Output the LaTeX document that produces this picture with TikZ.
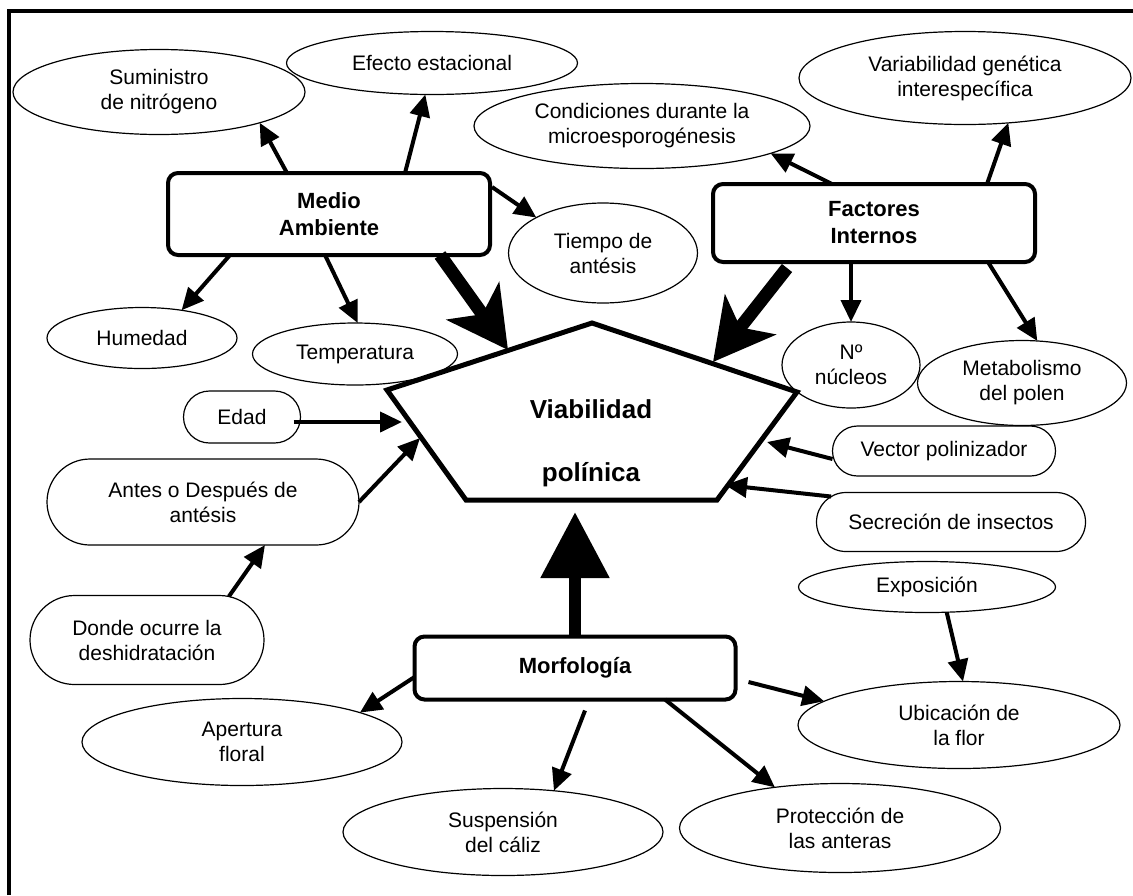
\documentclass[tikz,border=0pt]{standalone}
\usepackage{fontspec}
\setmainfont{Liberation Sans}
\usetikzlibrary{arrows.meta,shapes.geometric,shapes.misc,calc}

\begin{document}
\begin{tikzpicture}[
  x=0.5pt,y=-0.5pt,
  font=\fontsize{10.5}{12.5}\selectfont,
  oval/.style={ellipse,draw,line width=0.6pt,align=center,inner sep=0pt,outer sep=0pt},
  pill/.style={rounded rectangle,draw,line width=0.6pt,align=center,inner sep=0pt,outer sep=0pt},
  box/.style={draw,line width=2pt,rounded corners=5pt,align=center,inner sep=0pt,outer sep=0pt,font=\fontsize{11}{13.5}\selectfont\bfseries},
  arr/.style={-{Triangle[length=11pt,width=10pt]},line width=2pt},
  bigarr/.style={-{Stealth[length=30pt,width=32pt,inset=8pt]},line width=6.5pt},
  uparr/.style={-{Triangle[length=33pt,width=33pt]},line width=6pt}]
  \useasboundingbox (0,0) rectangle (1133,895);
  \draw[line width=2pt] (9,895) -- (9,11) -- (1133,11);

  \coordinate (pt) at (592,323);
  \coordinate (pr) at (797,392);
  \coordinate (pbr) at (717,500);
  \coordinate (pbl) at (466,500);
  \coordinate (pl) at (387,390);
  \draw[line width=2.5pt,line join=miter] (pt) -- (pr) -- (pbr) -- (pbl) -- (pl) -- cycle;
  \node[font=\fontsize{13}{31.5}\selectfont\bfseries,align=center] (via) at (591,443) {Viabilidad\\polínica};
  \coordinate (tipmed) at (508,350);
  \coordinate (tipfac) at (713,362);
  \coordinate (tipeda) at (402,422);
  \coordinate (tipant) at (420,438);
  \coordinate (tipvec) at (767,442);
  \coordinate (tipsec) at (725,485);
  \coordinate (tipmor) at (575,512);

  \node[box,minimum width=161pt,minimum height=41pt] (med) at (329,214) {Medio\\Ambiente};
  \node[box,minimum width=161pt,minimum height=39pt] (fac) at (874,223) {Factores\\Internos};
  \node[box,minimum width=160.5pt,minimum height=31.5pt] (mor) at (575,668) {Morfología};

  \node[oval,minimum width=146pt,minimum height=42.5pt] (sum) at (159,92) {Suministro\\de nitrógeno};
  \node[oval,minimum width=145.5pt,minimum height=31.5pt] (efe) at (432,63) {Efecto estacional};
  \node[oval,minimum width=168pt,minimum height=42.5pt] (con) at (642,126) {Condiciones durante la\\microesporogénesis};
  \node[oval,minimum width=166pt,minimum height=46.5pt] (var) at (965,78) {Variabilidad genética\\interespecífica};
  \node[oval,minimum width=94.5pt,minimum height=50pt] (tie) at (603,253) {Tiempo de\\antésis};
  \node[oval,minimum width=95pt,minimum height=30.5pt] (hum) at (142,338) {Humedad};
  \node[oval,minimum width=102.5pt,minimum height=31pt] (tem) at (355,354) {Temperatura};
  \node[oval,minimum width=69pt,minimum height=43pt] (nuc) at (851,365) {Nº\\núcleos};
  \node[oval,minimum width=104.5pt,minimum height=42.5pt] (met) at (1022,383) {Metabolismo\\del polen};
  \node[oval,minimum width=128.5pt,minimum height=25.5pt] (exp) at (927,587) {Exposición};
  \node[oval,minimum width=161pt,minimum height=43.5pt] (ubi) at (959,725) {Ubicación de\\la flor};
  \node[oval,minimum width=160.5pt,minimum height=44.5pt] (pro) at (840,828) {Protección de\\las anteras};
  \node[oval,minimum width=160pt,minimum height=43.5pt] (sus) at (503,832) {Suspensión\\del cáliz};
  \node[oval,minimum width=160pt,minimum height=43.5pt] (ape) at (242,742) {Apertura\\floral};

  \node[pill,minimum width=58.5pt,minimum height=26pt] (eda) at (242,417) {Edad};
  \node[pill,minimum width=156pt,minimum height=43pt] (ant) at (203,502) {Antes o Después de\\antésis};
  \node[pill,minimum width=117pt,minimum height=44.5pt] (don) at (147,640) {Donde ocurre la\\deshidratación};
  \node[pill,minimum width=111.5pt,minimum height=25pt] (vec) at (944,451) {Vector polinizador};
  \node[pill,minimum width=134.5pt,minimum height=29.5pt] (sec) at (951,522) {Secreción de insectos};

  \draw[arr] ($(med.north)+(-42,0)$) -- (sum.-17);
  \draw[arr] ($(med.north)+(76,0)$) -- (efe.-102);
  \draw[arr] ($(med.east)+(2,-27)$) -- (tie.152);
  \draw[arr] ($(med.south)+(-99,0)$) -- (hum.35);
  \draw[arr] ($(med.south)+(-4,0)$) -- (tem.85);
  \draw[bigarr] ($(med.south)+(111,0)$) -- (tipmed);
  \draw[arr] ($(fac.north)+(-42,0)$) -- (con.-12);
  \draw[arr] ($(fac.north)+(113,0)$) -- (var.-46);
  \draw[arr] (nuc.north |- fac.south) -- (nuc.north);
  \draw[arr] ($(fac.south)+(114,0)$) -- (met.70);
  \draw[bigarr] ($(fac.south)+(-87,6)$) -- (tipfac);
  \draw[arr] ($(eda.east)+(-7,5)$) -- (tipeda);
  \draw[arr] (ant.east) -- (tipant);
  \draw[arr] (don.28) -- ($(ant.south)+(62,0)$);
  \draw[arr] ($(vec.west)+(0,8)$) -- (tipvec);
  \draw[arr] (sec.168) -- (tipsec);
  \draw[uparr] (mor.north) -- (tipmor);
  \draw[arr] ($(mor.west)+(0,9)$) -- (ape.14);
  \draw[arr] ($(mor.south)+(10,11)$) -- (sus.39);
  \draw[arr] ($(mor.south)+(90,0)$) -- (pro.148);
  \draw[arr] ($(mor.east)+(13,14)$) -- (ubi.170);
  \draw[arr] (exp.-52) -- ($(ubi.north)+(4,0)$);
\end{tikzpicture}
\end{document}
